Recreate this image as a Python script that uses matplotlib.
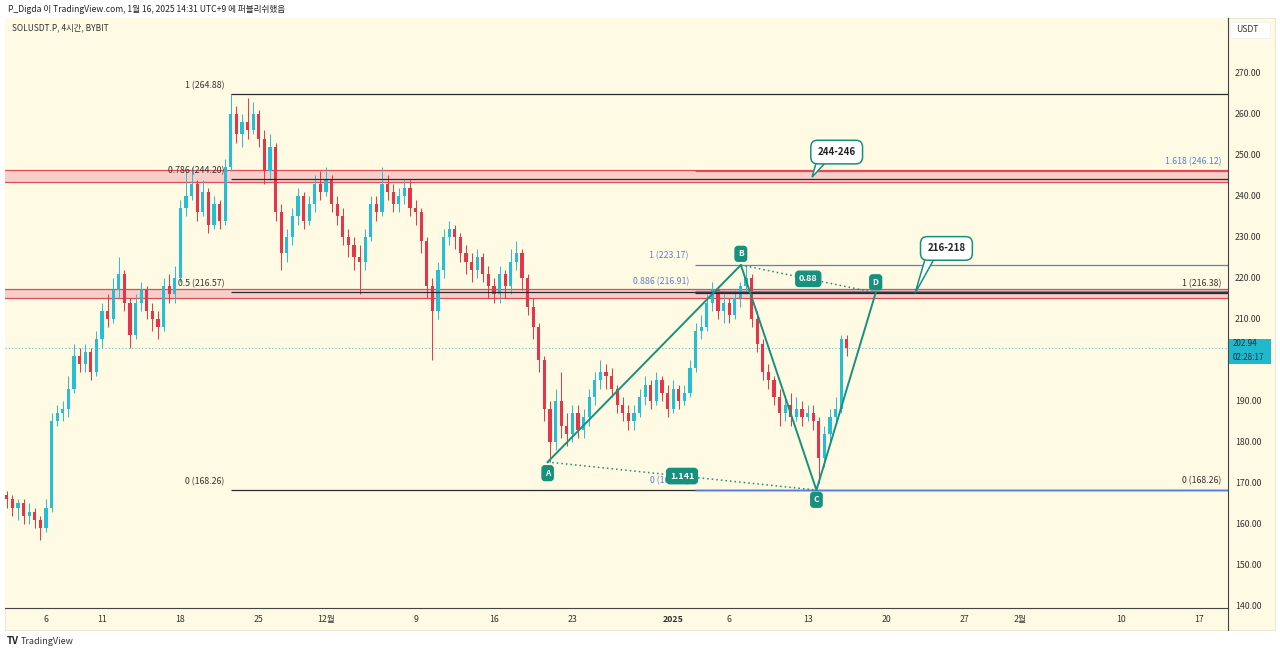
import matplotlib
matplotlib.use("Agg")
import matplotlib.pyplot as plt
import matplotlib.patches as mpatches
from matplotlib.lines import Line2D
from matplotlib.transforms import blended_transform_factory
import numpy as np
import pandas as pd

plt.rcParams['font.family'] = ['Noto Sans CJK KR', 'DejaVu Sans']

# SOLUSDT.P (12h steps)
first_open = 167
closes = [166, 164, 165, 162, 163, 161, 159, 164, 185, 187,
          188, 193, 201, 199, 202, 197, 205, 212, 210, 217,
          221, 214, 206, 214, 217, 212, 210, 208, 218, 216,
          220, 237, 240, 243, 236, 241, 233, 238, 234, 247,
          260, 255, 258, 256, 260, 254, 246, 252, 236, 226,
          230, 235, 240, 234, 238, 243, 241, 244, 238, 235,
          230, 228, 225, 224, 230, 238, 236, 243, 241, 238,
          240, 242, 237, 236, 229, 218, 212, 222, 230, 232,
          230, 226, 224, 222, 225, 221, 218, 216, 221, 218,
          224, 226, 220, 213, 208, 200, 188, 180, 190, 184,
          182, 187, 183, 186, 191, 195, 197, 196, 193, 189,
          187, 185, 187, 191, 194, 190, 195, 192, 188, 193,
          190, 192, 198, 207, 208, 214, 217, 212, 214, 211,
          215, 218, 220, 210, 204, 197, 195, 191, 187, 189,
          186, 188, 186, 187, 185, 176, 182, 186, 188, 205,
          202.94]
highs = [168, 167, 166, 166, 165, 164, 162, 166, 187, 189,
         190, 196, 204, 203, 204, 203, 207, 214, 216, 220,
         225, 222, 215, 216, 219, 218, 214, 212, 220, 221,
         223, 239, 246, 247, 244, 244, 242, 240, 239, 249,
         264.88, 262, 260, 264, 263, 261, 256, 255, 253, 238,
         232, 237, 242, 241, 240, 245, 246, 247, 245, 240,
         237, 232, 230, 228, 232, 240, 240, 247, 245, 243,
         242, 244, 244, 239, 237, 230, 220, 224, 232, 234,
         233, 231, 228, 226, 227, 226, 223, 220, 223, 222,
         227, 229, 227, 221, 215, 209, 201, 190, 193, 197,
         187, 189, 189, 188, 193, 197, 200, 199, 198, 194,
         191, 189, 189, 193, 196, 195, 197, 196, 194, 195,
         194, 194, 200, 209, 211, 216, 219, 218, 216, 215,
         217, 219, 223.17, 221, 212, 205, 199, 196, 193, 191,
         192, 191, 190, 189, 189, 186, 184, 188, 191, 206,
         206]
lows = [164, 162, 161, 160, 160, 159, 156, 158, 163, 184,
        185, 186, 192, 197, 197, 195, 196, 203, 208, 209,
        215, 212, 203, 205, 212, 210, 207, 205, 207, 214,
        214, 219, 235, 239, 234, 235, 231, 232, 232, 233,
        246, 253, 252, 254, 255, 252, 243, 244, 234, 222,
        224, 228, 233, 232, 233, 236, 239, 240, 236, 233,
        228, 225, 222, 216, 222, 229, 234, 235, 239, 236,
        236, 238, 235, 233, 226, 215, 200, 210, 220, 228,
        227, 224, 221, 219, 220, 219, 215, 214, 214, 215,
        216, 222, 217, 211, 205, 197, 185, 175.1, 178, 181,
        179, 180, 181, 181, 184, 189, 193, 193, 191, 187,
        185, 183, 183, 186, 189, 188, 189, 190, 186, 187,
        188, 189, 191, 197, 205, 207, 212, 210, 209, 209,
        210, 213, 216, 208, 202, 195, 193, 189, 184, 185,
        184, 185, 184, 185, 183, 170, 174, 180, 185, 187,
        201]
last_price = 202.94

tick_dates = ['2024-11-06', '2024-11-11', '2024-11-18', '2024-11-25', '2024-12-01',
              '2024-12-09', '2024-12-16', '2024-12-23', '2025-01-01', '2025-01-06',
              '2025-01-13', '2025-01-20', '2025-01-27', '2025-02-01', '2025-02-10',
              '2025-02-17']
tick_labels = ['6', '11', '18', '25', '12월', '9', '16', '23', '2025', '6',
               '13', '20', '27', '2월', '10', '17']
# 200.00 sits under the last-price label on the original, so it is not shown
price_ticks = [140, 150, 160, 170, 180, 190, 210, 220, 230, 240, 250, 260, 270]

# fib levels
fib_black = [1.0, 0.786, 0.5, 0.0]
fib_black_vals = [264.88, 244.20, 216.57, 168.26]
fib_blue = [1.0, 0.886, 0.0]
fib_blue_vals = [223.17, 216.91, 168.26]
fib_ext = ['1.618', '1', '0']
fib_ext_vals = [246.12, 216.38, 168.26]

zones = [(243.4, 246.3), (215.2, 217.4)]

# ABCD harmonic
pat_names = ['A', 'B', 'C', 'D']
pat_times = ['2024-12-20 19:00', '2025-01-07 01:00', '2025-01-13 19:00', '2025-01-19 02:00']
pat_prices = [175.1, 223.17, 168.26, 216.4]

origin = pd.Timestamp('2024-11-06')
def to_x(t):
    return (pd.Timestamp(t) - origin) / pd.Timedelta('1D')

times = pd.date_range('2024-11-02 12:00', periods=len(closes), freq='12h')
x = np.array([(t - origin) / pd.Timedelta('1D') for t in times])
opens = np.array([first_open] + closes[:-1], dtype=float)
c = np.array(closes, dtype=float)
up = c >= opens

UP = '#25bfd5'
DN = '#e6354a'
BG = '#fefae3'
TEAL = '#16917d'
BLUE = '#5b7fd4'

fig = plt.figure(figsize=(12.8, 6.54), dpi=100)
fig.patch.set_facecolor('white')
W, H = 1280, 654
def fx(px):
    return px / W
def fy(py):
    return 1 - py / H

fig.add_artist(mpatches.Rectangle((fx(5), fy(630)), fx(1270), 612 / H,
                                  transform=fig.transFigure, fc=BG, ec='#e8e4cc', lw=0.6, zorder=0))

ax = fig.add_axes([fx(5), fy(608), 1223 / W, 590 / H])
ax.set_facecolor(BG)
x0, x1 = -3.66, 105.54
ax.set_xlim(x0, x1)
ax.set_ylim(139.5, 283.4)

# zones
for lo, hi in zones:
    ax.axhspan(lo, hi, color='#f7c3c3', alpha=0.8, lw=0, zorder=1)
    ax.axhline(lo, color='#df4c57', lw=0.9, zorder=2)
    ax.axhline(hi, color='#df4c57', lw=0.9, zorder=2)

# current price dotted line
ax.axhline(last_price, color='#6bbcc6', lw=0.8, ls=(0, (1, 2)), zorder=2)

# candles
cols = np.where(up, UP, DN)
ax.vlines(x, lows, highs, colors=cols, lw=0.7, zorder=3)
bottoms = np.minimum(opens, c)
heights = np.maximum(np.abs(c - opens), 0.4)
ax.bar(x, heights, bottom=bottoms, width=0.28, color=cols, lw=0, zorder=4)

# black fib retracement
fs = 6.3
xs_black = to_x('2024-11-22 12:00')
for lv, val in zip(fib_black, fib_black_vals):
    ax.hlines(val, xs_black, x1, color='#2b2b2b', lw=0.9, zorder=5)
    lab = f'{lv:g} ({val:.2f})'
    ax.annotate(lab, (xs_black, val), xytext=(-4.5, 6), textcoords='offset points',
                ha='right', va='center', fontsize=fs, color='#333333', zorder=6)

# trend-based extension (labels on the right)
xs_ext = to_x('2025-01-02 23:00')
for lv, val in zip(fib_ext, fib_ext_vals):
    ax.hlines(val, xs_ext, x1, color='#2b2b2b' if lv != '1.618' else '#df4c57', lw=0.9, zorder=5)
    ax.annotate(f'{lv} ({val:.2f})', (x1, val), xytext=(-5, 6.5), textcoords='offset points',
                ha='right', va='center', fontsize=fs,
                color=BLUE if lv == '1.618' else '#333333', zorder=6)

# blue fib retracement
for lv, val in zip(fib_blue, fib_blue_vals):
    ax.hlines(val, xs_ext, x1, color=BLUE, lw=0.9, zorder=5)
    ax.annotate(f'{lv:g} ({val:.2f})', (xs_ext, val), xytext=(-4.5, 6.5), textcoords='offset points',
                ha='right', va='center', fontsize=fs, color=BLUE, zorder=6)

# ABCD pattern
px_ = [to_x(t) for t in pat_times]
ax.plot(px_, pat_prices, color=TEAL, lw=1.4, zorder=7)
ax.plot([px_[0], px_[2]], [pat_prices[0], pat_prices[2]], color=TEAL, lw=1.1, ls=(0, (1, 2)), zorder=7)
ax.plot([px_[1], px_[3]], [pat_prices[1], pat_prices[3]], color=TEAL, lw=1.1, ls=(0, (1, 2)), zorder=7)
offs = [-8, 8, -7, 7.5]
for n, xx, pp, o in zip(pat_names, px_, pat_prices, offs):
    ax.annotate(n, (xx, pp), xytext=(0, o), textcoords='offset points', ha='center', va='center',
                fontsize=6, color='white', fontweight='bold', zorder=9,
                bbox=dict(boxstyle='round,pad=0.35', fc=TEAL, ec=TEAL))
ratios = [('1.141', 0, 2), ('0.88', 1, 3)]
for txt, i, j in ratios:
    ax.text((px_[i] + px_[j]) / 2, (pat_prices[i] + pat_prices[j]) / 2, txt, ha='center', va='center',
            fontsize=6.5, color='white', fontweight='bold', zorder=9,
            bbox=dict(boxstyle='round,pad=0.35', fc=TEAL, ec=TEAL))

# callouts
callouts = [('244-246', (70.6, 250.7), (68.4, 244.6), [(68.9, 249.3), (70.0, 249.3)]),
            ('216-218', (80.4, 227.2), (77.6, 216.3), [(78.6, 225.6), (79.5, 225.6)])]
for txt, ctr, tip, base in callouts:
    tail = mpatches.Polygon([base[0], tip, base[1]], closed=True, fc='white', ec=TEAL, lw=1.1, zorder=10)
    ax.add_patch(tail)
    ax.text(ctr[0], ctr[1], txt, ha='center', va='center', fontsize=7, fontweight='bold',
            color='#222222', zorder=11,
            bbox=dict(boxstyle='round,pad=0.7', fc='white', ec=TEAL, lw=1.1))

# axes styling
for s in ['top', 'left']:
    ax.spines[s].set_visible(False)
ax.spines['right'].set_color('#444444')
ax.spines['bottom'].set_color('#444444')
ax.spines['right'].set_linewidth(0.8)
ax.spines['bottom'].set_linewidth(0.8)
ax.yaxis.tick_right()
ax.set_yticks(price_ticks, [f'{v:.2f}' for v in price_ticks])
ax.tick_params(axis='y', length=0, pad=5, labelsize=6.3, labelcolor='#333333')
ax.set_xticks([to_x(d) for d in tick_dates], tick_labels)
ax.tick_params(axis='x', length=0, pad=5, labelsize=6.3, labelcolor='#333333')
for t in ax.get_xticklabels():
    if t.get_text() == '2025':
        t.set_fontweight('bold')

fig.add_artist(Line2D([fx(1228), fx(1228)], [fy(608), fy(630)], transform=fig.transFigure,
                      color='#444444', lw=0.8))

# current price label on the axis
tr = blended_transform_factory(ax.transAxes, ax.transData)
ax.add_patch(mpatches.Rectangle((1.0005, 198.9), 42 / 1223, 6.1, transform=tr, fc='#22b8cc',
                                ec='none', clip_on=False, zorder=12))
ax.text(1.004, 204.0, f'{last_price:.2f}', transform=tr, ha='left', va='center', fontsize=5.8,
        color='#0b3540', clip_on=False, zorder=13)
ax.text(1.004, 200.5, '02:28:17', transform=tr, ha='left', va='center', fontsize=5.8,
        color='#0b3540', clip_on=False, zorder=13)

# USDT box
fig.add_artist(mpatches.FancyBboxPatch((fx(1232), fy(38)), 37 / W, 15 / H,
                                       boxstyle='round,pad=0.001', transform=fig.transFigure,
                                       fc='white', ec='#eeeeee', lw=0.5))
fig.text(fx(1236), fy(30), 'USDT', ha='left', va='center', fontsize=6.2, color='#333333')

# header / footer
fig.text(fx(8), fy(10), 'P_Digda 이 TradingView.com, 1월 16, 2025 14:31 UTC+9 에 퍼블리쉬했음',
         ha='left', va='center', fontsize=6.2, color='#222222')
fig.text(fx(12), fy(28), 'SOLUSDT.P, 4시간, BYBIT', ha='left', va='center', fontsize=6, color='#333333')
fig.text(fx(7), fy(641), 'TV', ha='left', va='center', fontsize=7, fontweight='bold', color='#222222')
fig.text(fx(21), fy(641), 'TradingView', ha='left', va='center', fontsize=6.5, color='#333333')

fig.savefig('out.png', dpi=100, facecolor='white')
